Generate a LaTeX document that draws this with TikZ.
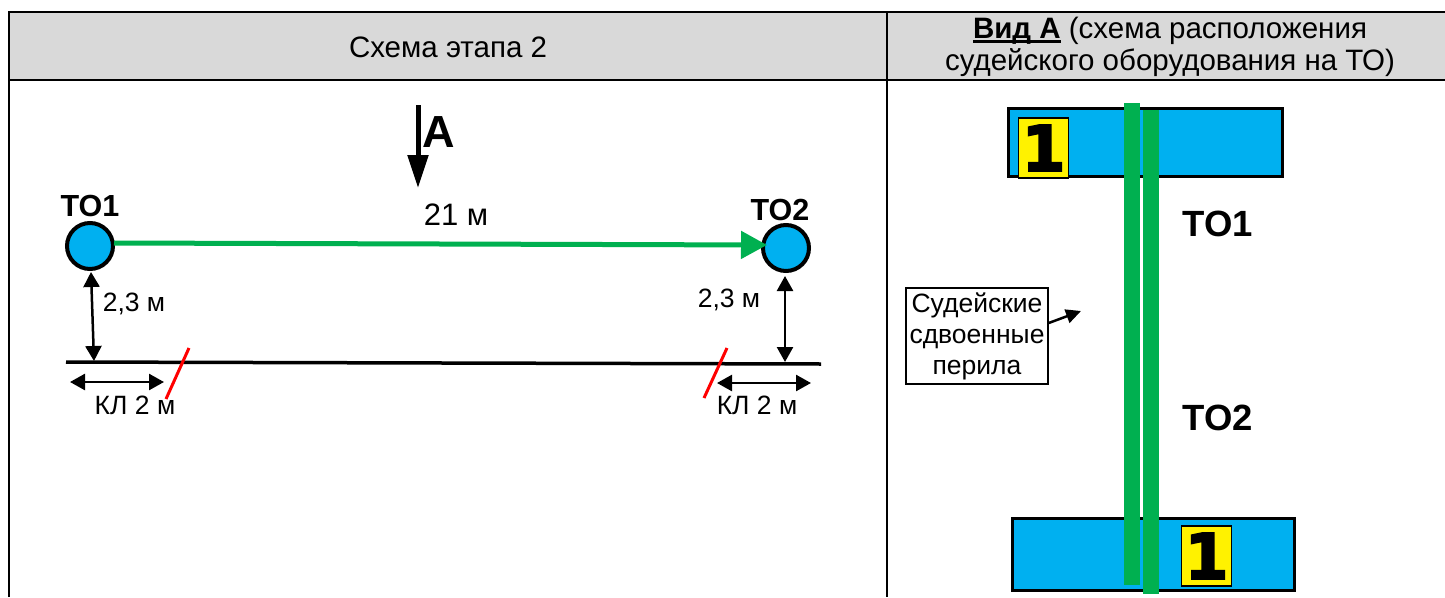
\documentclass[tikz,border=0pt]{standalone}
\usepackage{fontspec}
\setmainfont{Liberation Sans}
\newfontfamily\digitfont[FakeBold=3]{DejaVu Sans Bold}
\usetikzlibrary{arrows.meta}

\definecolor{headgray}{RGB}{217,217,217}
\definecolor{toblue}{RGB}{0,176,240}
\definecolor{railgreen}{RGB}{0,176,80}

\newcommand{\heavyline}[1]{\setbox0\hbox{#1}\rlap{\rule[-4pt]{\wd0}{2.6pt}}\box0\relax}

\tikzset{
    dim/.style={line width=2.5pt, {Triangle[length=15pt, width=16pt]}-{Triangle[length=15pt, width=16pt]}},
    cutmark/.style={red, line width=3pt},
    topoint/.style={circle, draw, line width=4pt, fill=toblue, minimum size=46pt, inner sep=0pt},
    lab/.style={font=\fontsize{26.5}{30}\selectfont, inner sep=0pt},
    bigto/.style={font=\fontsize{30.5}{34}\selectfont\bfseries, inner sep=0pt},
    judgepanel/.style={draw, line width=1.5pt, fill=yellow, inner sep=0pt},
    stage/.style={draw, line width=3.5pt, fill=toblue, inner sep=0pt},
    rail/.style={fill=railgreen, inner sep=0pt}
}

\begin{document}
\begin{tikzpicture}[x=1pt, y=-1pt]
    \useasboundingbox (0, 0) rectangle (1445, 597);

    % table
    \fill[headgray] (9, 12) rectangle (1445, 80);
    \draw[line width=2.6pt] (9, 597) -- (9, 12) -- (1445, 12);
    \draw[line width=2.6pt] (9, 80) -- (1445, 80);
    \draw[line width=2.6pt] (887, 12) -- (887, 597);
    \node[lab, font=\fontsize{29.5}{32}\selectfont] (headleft) at (448, 47) {Схема этапа 2};
    \node[lab, font=\fontsize{29.5}{32}\selectfont, align=center] (headright) at (1170, 47)
        {\heavyline{\textbf{Вид А}} (схема расположения\\судейского оборудования на ТО)};

    % left scheme
    \node[topoint] (to1) at (90, 246) {};
    \node[topoint] (to2) at (786, 248) {};
    \node[bigto] (to1lab) at (90, 206) {ТО1};
    \node[bigto] (to2lab) at (780, 210) {ТО2};
    \coordinate (railstart) at (114, 243);
    \coordinate (railend) at (767, 245);
    \draw[railgreen, line width=5pt, -{Triangle[length=26pt, width=27pt]}] (railstart) -- (railend);
    \node[lab, font=\fontsize{31}{34}\selectfont] (dist) at (456, 215) {21 м};

    \coordinate (viewtop) at (418, 105);
    \coordinate (viewend) at (418, 188);
    \draw[line width=5pt, -{Triangle[length=33pt, width=20pt]}] (viewtop) -- (viewend);
    \node[font=\fontsize{45}{50}\selectfont\bfseries, inner sep=0pt] (viewlab) at (439, 132) {А};

    \coordinate (bankl) at (66, 362);
    \coordinate (bankr) at (821, 364);
    \draw[line width=3.5pt] (bankl) -- (bankr);

    \coordinate (foot1) at (94, 361);
    \coordinate (foot2) at (785, 362);
    \draw[dim] (to1.south) ++ (1, 1) coordinate (head1) (head1) -- (foot1);
    \draw[dim] (to2.south) ++ (-1, 3) coordinate (head2) (head2) -- (foot2);
    \node[lab] (h1) at (134, 304) {2,3 м};
    \node[lab] (h2) at (729, 300) {2,3 м};

    % control lines
    \foreach \name/\xa/\xb/\y/\xt in {kla/70/164/382/135, klb/717/811/383/757} {
        \coordinate (\name l) at (\xa, \y);
        \coordinate (\name r) at (\xb, \y);
        \draw[dim] (\name l) -- (\name r);
        \node[lab] (\name t) at (\xt, 405) {КЛ 2 м};
    }
    \foreach \name/\xa/\xb/\ya/\yb in {cuta/189/166/348/399, cutb/727/704/348/398} {
        \coordinate (\name a) at (\xa, \ya);
        \coordinate (\name b) at (\xb, \yb);
        \draw[cutmark] (\name a) -- (\name b);
    }

    % view A
    \node[stage, minimum width=274pt, minimum height=68pt] (stagetop) at (1145.5, 142.5) {};
    \node[stage, minimum width=282pt, minimum height=72pt] (stagebot) at (1153.5, 554.5) {};
    \foreach \name/\xc/\yc in {paneltop/1043.5/148, panelbot/1206.5/556} {
        \node[judgepanel, minimum width=50pt, minimum height=60pt, text height=46pt, text depth=0pt,
              font=\digitfont\fontsize{63}{63}\selectfont] (\name) at (\xc, \yc) {1};
    }
    \node[rail, minimum width=16pt, minimum height=482pt] (railone) at (1132, 344) {};
    \node[rail, minimum width=16pt, minimum height=484pt] (railtwo) at (1151, 352) {};
    \node[bigto, font=\fontsize{36.5}{40}\selectfont\bfseries] (to1view) at (1218, 224) {ТО1};
    \node[bigto, font=\fontsize{36.5}{40}\selectfont\bfseries] (to2view) at (1218, 418) {ТО2};

    \node[draw, line width=1.5pt, minimum width=142pt, minimum height=96pt, inner sep=0pt, align=center,
          font=\fontsize{26.5}{31}\selectfont] (note) at (977, 336) {Судейские\\сдвоенные\\перила};
    \coordinate (notetip) at (1081, 311);
    \draw[line width=2.5pt, -{Triangle[length=15pt, width=14pt]}] (note.east |- 0, 323) coordinate (notefoot) (notefoot) -- (notetip);
\end{tikzpicture}
\end{document}
